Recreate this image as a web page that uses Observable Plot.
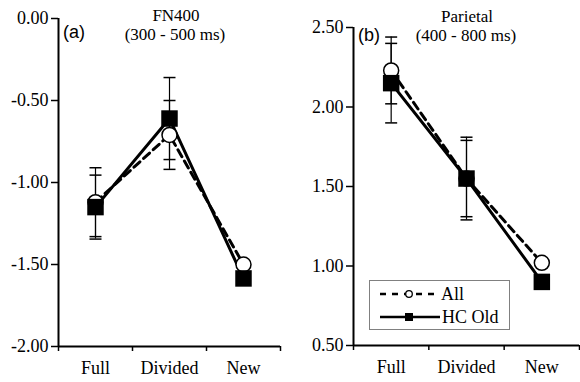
<!DOCTYPE html>
<html>
<head>
<meta charset="utf-8">
<script src="https://cdn.jsdelivr.net/npm/d3@7"></script>
<script src="https://cdn.jsdelivr.net/npm/@observablehq/plot@0.6"></script>
<style>
  html, body { margin: 0; padding: 0; background: white; }
  #wrap { position: relative; width: 580px; height: 382px; overflow: hidden; }
  .panel { position: absolute; top: 0; }
  .panel svg, .panel svg text { font-family: 'Liberation Serif', 'Times New Roman', serif !important; font-size: 18px !important; }
  .title { position: absolute; width: 200px; text-align: center; font-family: 'Liberation Serif', 'Times New Roman', serif; font-size: 17px; line-height: 16px; color: black; white-space: nowrap; }
  .tag { position: absolute; font-family: 'Liberation Sans', Arial, sans-serif; font-size: 18px; line-height: 18px; color: black; }
  #legend text { font-family: 'Liberation Serif', 'Times New Roman', serif; font-size: 18px; }
</style>
</head>
<body>
<div id="wrap">
  <div class="panel" id="left" style="left:0"></div>
  <div class="panel" id="right" style="left:290px"></div>
  <div class="title" style="left:76px; top:8px">FN400</div>
  <div class="title" style="left:75px; top:27px">(300 - 500 ms)</div>
  <div class="tag" style="left:63px; top:23px">(a)</div>
  <div class="title" style="left:367px; top:9px">Parietal</div>
  <div class="title" style="left:366px; top:28px">(400 - 800 ms)</div>
  <div class="tag" style="left:358px; top:26px">(b)</div>
  <svg id="legend" style="position:absolute; left:369px; top:280px" width="142" height="51">
    <rect x="0.5" y="0.5" width="140" height="49" fill="white" stroke="#808080" stroke-width="1"></rect>
    <line x1="11" y1="14" x2="70" y2="14" stroke="black" stroke-width="2.5" stroke-dasharray="6,6"></line>
    <circle cx="40" cy="14" r="3.3" fill="white" stroke="black" stroke-width="1.3"></circle>
    <text x="72" y="20">All</text>
    <line x1="11" y1="37" x2="71" y2="37" stroke="black" stroke-width="2.5"></line>
    <rect x="36" y="33" width="8" height="8" fill="black"></rect>
    <text x="73" y="43">HC Old</text>
  </svg>
</div>
<script>
// ---- Data ----
const categories = ["Full", "Divided", "New"];

// FN400 (300 - 500 ms)
const fn400All    = [-1.12, -0.71, -1.50];
const fn400AllErr = [0.21, 0.21, null];
const fn400Old    = [-1.15, -0.61, -1.585];
const fn400OldErr = [0.195, 0.25, null];
const fn400Ticks  = [0, -0.5, -1, -1.5, -2];

// Parietal (400 - 800 ms)
const parAll    = [2.23, 1.55, 1.02];
const parAllErr = [0.21, 0.24, null];
const parOld    = [2.15, 1.55, 0.90];
const parOldErr = [0.25, 0.26, null];
const parTicks  = [0.5, 1, 1.5, 2, 2.5];

// ---- Helpers ----
function rows(vals, errs) {
  return categories.map((c, i) => ({x: i + 0.5, cat: c, v: vals[i], e: errs[i]}));
}
const cap = {
  draw(ctx, size) {
    const w = Math.sqrt(size / Math.PI);
    ctx.moveTo(-w, 0);
    ctx.lineTo(w, 0);
  }
};
const FONT = "'Liberation Serif', 'Times New Roman', serif";

function panel({all, allErr, old, oldErr, ticks, margins}) {
  const A = rows(all, allErr), O = rows(old, oldErr);
  const errs = [...A, ...O].filter(d => d.e != null);
  const yMin = d3.min(ticks), yMax = d3.max(ticks);
  return Plot.plot({
    width: 290, height: 382,
    ...margins,
    x: {domain: [0, categories.length], label: null},
    y: {domain: [yMin, yMax], label: null},
    style: {fontFamily: FONT, fontSize: "18px", color: "black", background: "white", overflow: "visible"},
    marks: [
      Plot.axisY({ticks, tickFormat: d => d.toFixed(2), tickSize: 7, tickPadding: 3, strokeWidth: 1.5, label: null, fontFamily: FONT, fontSize: 18}),
      Plot.axisX({ticks: d3.range(categories.length + 1), tickFormat: () => "", tickSize: 5, strokeWidth: 1.5, label: null}),
      Plot.axisX({ticks: categories.map((c, i) => i + 0.5), tickFormat: d => categories[Math.floor(d)], tickSize: 0, tickPadding: 15, label: null, fontFamily: FONT, fontSize: 18}),
      Plot.ruleX([0], {strokeWidth: 2}),
      Plot.ruleY([yMin], {strokeWidth: 2}),
      Plot.line(A, {x: "x", y: "v", strokeWidth: 3, strokeDasharray: "8,5"}),
      Plot.line(O, {x: "x", y: "v", strokeWidth: 3}),
      Plot.ruleX(errs, {x: "x", y1: d => d.v - d.e, y2: d => d.v + d.e, strokeWidth: 1.2}),
      Plot.dot(errs, {x: "x", y: d => d.v + d.e, symbol: cap, r: 6, stroke: "black", strokeWidth: 1.5}),
      Plot.dot(errs, {x: "x", y: d => d.v - d.e, symbol: cap, r: 6, stroke: "black", strokeWidth: 1.5}),
      Plot.dot(A, {x: "x", y: "v", r: 7.5, fill: "white", stroke: "black", strokeWidth: 1.5}),
      Plot.dot(O, {x: "x", y: "v", symbol: "square", r: 9.3, fill: "black"})
    ]
  });
}

document.getElementById("left").append(panel({
  all: fn400All, allErr: fn400AllErr, old: fn400Old, oldErr: fn400OldErr, ticks: fn400Ticks,
  margins: {marginLeft: 58, marginRight: 10, marginTop: 18, marginBottom: 36}
}));
document.getElementById("right").append(panel({
  all: parAll, allErr: parAllErr, old: parOld, oldErr: parOldErr, ticks: parTicks,
  margins: {marginLeft: 63, marginRight: 1, marginTop: 27, marginBottom: 37}
}));
</script>
</body>
</html>
